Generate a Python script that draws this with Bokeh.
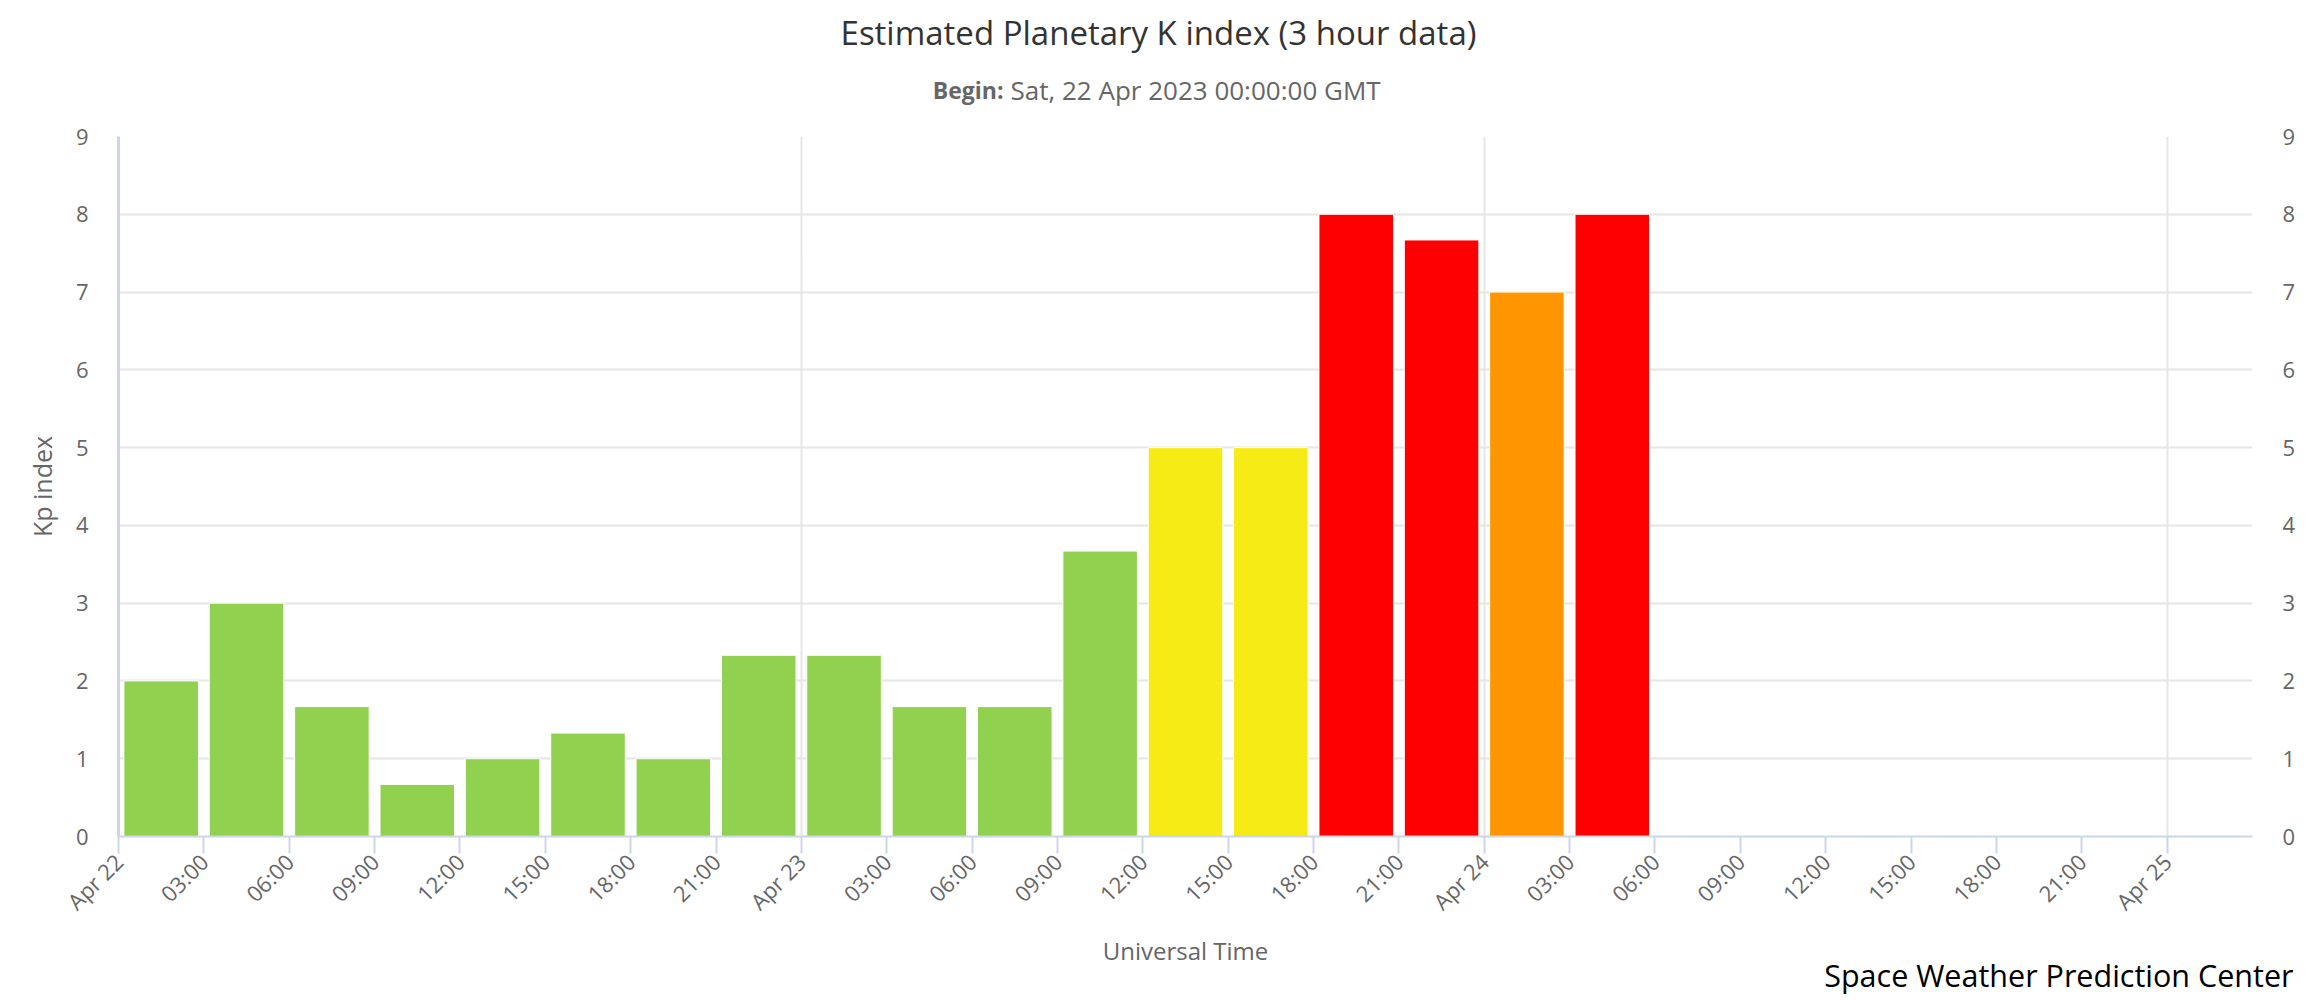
import pandas as pd
from math import pi
from bokeh.plotting import figure
from bokeh.layouts import column
from bokeh.models import ColumnDataSource, LinearAxis, FixedTicker, Range1d, Grid
from bokeh.core.properties import value
from bokeh.embed import file_html
from bokeh.resources import INLINE

# ---------------- data ----------------
begin = "2023-04-22 00:00"
period_starts = [
    "2023-04-22 00:00", "2023-04-22 03:00", "2023-04-22 06:00", "2023-04-22 09:00",
    "2023-04-22 12:00", "2023-04-22 15:00", "2023-04-22 18:00", "2023-04-22 21:00",
    "2023-04-23 00:00", "2023-04-23 03:00", "2023-04-23 06:00", "2023-04-23 09:00",
    "2023-04-23 12:00", "2023-04-23 15:00", "2023-04-23 18:00", "2023-04-23 21:00",
    "2023-04-24 00:00", "2023-04-24 03:00",
]
kp_values = [2.0, 3.0, 1.67, 0.67, 1.0, 1.33, 1.0, 2.33,
             2.33, 1.67, 1.67, 3.67, 5.0, 5.0, 8.0, 7.67,
             7.0, 8.0]
tick_labels = ["Apr 22", "03:00", "06:00", "09:00", "12:00", "15:00", "18:00", "21:00",
               "Apr 23", "03:00", "06:00", "09:00", "12:00", "15:00", "18:00", "21:00",
               "Apr 24", "03:00", "06:00", "09:00", "12:00", "15:00", "18:00", "21:00",
               "Apr 25"]
day_starts = ["2023-04-23 00:00", "2023-04-24 00:00", "2023-04-25 00:00"]
axis_end = "2023-04-25 03:00"
y_ticks = [0, 1, 2, 3, 4, 5, 6, 7, 8, 9]

title_text = "Estimated Planetary K index (3 hour data)"
subtitle_bold = "Begin:"
subtitle_rest = "Sat, 22 Apr 2023 00:00:00 GMT"
x_title = "Universal Time"
y_title = "Kp index"
credits = "Space Weather Prediction Center"

# ---------------- derived ----------------
t0 = pd.Timestamp(begin)
HOUR = pd.Timedelta(hours=1)
starts_h = [(pd.Timestamp(s) - t0) / HOUR for s in period_starts]
x_centers = [h + 1.5 for h in starts_h]
tick_pos = [(t - t0) / HOUR for t in pd.date_range(t0, periods=len(tick_labels), freq="3h")]
day_pos = [(pd.Timestamp(d) - t0) / HOUR for d in day_starts]
x_end = (pd.Timestamp(axis_end) - t0) / HOUR


def kp_color(v):
    if v < 4.5:
        return "#92D050"
    if v < 5.5:
        return "#F6EB14"
    if v < 6.5:
        return "#FFC800"
    if v < 7.5:
        return "#FF9600"
    return "#FF0000"


colors = [kp_color(v) for v in kp_values]
src = ColumnDataSource(dict(x=x_centers, top=kp_values, color=colors))

FONT = "Open Sans"
GRID = "#e6e6e6"
AXIS = "#ccd6eb"
W = 2316
HEADER_H = 110
FOOTER_TOP = 930


def text_strip(height, y0):
    f = figure(width=W, height=height, output_backend="svg", toolbar_location=None,
               x_range=Range1d(0, W), y_range=Range1d(y0 + height, y0),
               x_axis_type=None, y_axis_type=None, min_border=0)
    f.frame_align = False
    f.outline_line_color = None
    f.background_fill_color = "white"
    f.border_fill_color = "white"
    return f


def put(f, text, x, y, size, color, align="center", style="normal"):
    f.text(x=[x], y=[y], text=[text], text_align=align, text_baseline="middle",
           text_font=value(FONT), text_font_size=value(size), text_color=color,
           text_font_style=style)


# ---------------- header (title + subtitle) ----------------
header = text_strip(HEADER_H, 0)
put(header, title_text, 1158, 32, "33px", "#333333")
put(header, subtitle_bold, 1003, 89, "23px", "#666666", align="right", style="bold")
put(header, subtitle_rest, 1010, 89, "26px", "#666666", align="left")

# ---------------- main chart ----------------
p = figure(width=W, height=FOOTER_TOP - HEADER_H, output_backend="svg", toolbar_location=None,
           x_range=Range1d(0, x_end), y_range=Range1d(0, 9),
           min_border_left=118, min_border_right=64, min_border_top=26,
           min_border_bottom=94, x_axis_type=None, y_axis_type=None)
p.frame_align = False
p.outline_line_color = None
p.background_fill_color = "white"
p.border_fill_color = "white"

# grid lines
p.add_layout(Grid(dimension=1, ticker=FixedTicker(ticks=y_ticks),
                  grid_line_color=GRID, grid_line_width=2))
p.add_layout(Grid(dimension=0, ticker=FixedTicker(ticks=day_pos),
                  grid_line_color=GRID, grid_line_width=2))

# bars
p.vbar(x="x", top="top", width=2.62, bottom=0, source=src, fill_color="color",
       line_color="white", line_width=1)

# x axis
xaxis = LinearAxis(ticker=FixedTicker(ticks=tick_pos))
xaxis.major_label_overrides = {t: lab for t, lab in zip(tick_pos, tick_labels)}
xaxis.major_label_orientation = pi / 4
xaxis.major_label_text_font = FONT
xaxis.major_label_text_font_size = "22px"
xaxis.major_label_text_color = "#666666"
xaxis.major_label_standoff = 4
xaxis.axis_line_color = AXIS
xaxis.axis_line_width = 2
xaxis.major_tick_line_color = AXIS
xaxis.major_tick_line_width = 2
xaxis.major_tick_out = 17
xaxis.major_tick_in = 0
xaxis.minor_tick_line_color = None
p.add_layout(xaxis, "below")

# y axes (left with title, right labels only)
for side in ("left", "right"):
    ax = LinearAxis(ticker=FixedTicker(ticks=y_ticks))
    ax.major_label_text_font = FONT
    ax.major_label_text_font_size = "22px"
    ax.major_label_text_color = "#666666"
    ax.major_label_standoff = 30
    ax.major_tick_line_color = None
    ax.major_tick_out = 0
    ax.major_tick_in = 0
    ax.minor_tick_line_color = None
    if side == "left":
        ax.axis_line_color = AXIS
        ax.axis_line_width = 3
        ax.axis_label = y_title
        ax.axis_label_text_font = FONT
        ax.axis_label_text_font_size = "25px"
        ax.axis_label_text_font_style = "normal"
        ax.axis_label_text_color = "#666666"
        ax.axis_label_standoff = 14
    else:
        ax.axis_line_color = None
    p.add_layout(ax, side)

# ---------------- footer (x title + credits) ----------------
footer = text_strip(1000 - FOOTER_TOP, FOOTER_TOP)
put(footer, x_title, 1185, 950, "24px", "#666666")
put(footer, credits, 2293, 974, "30.5px", "#000000", align="right")

layout = column(header, p, footer, spacing=0)
open("out.html", "w").write(file_html(layout, INLINE))
